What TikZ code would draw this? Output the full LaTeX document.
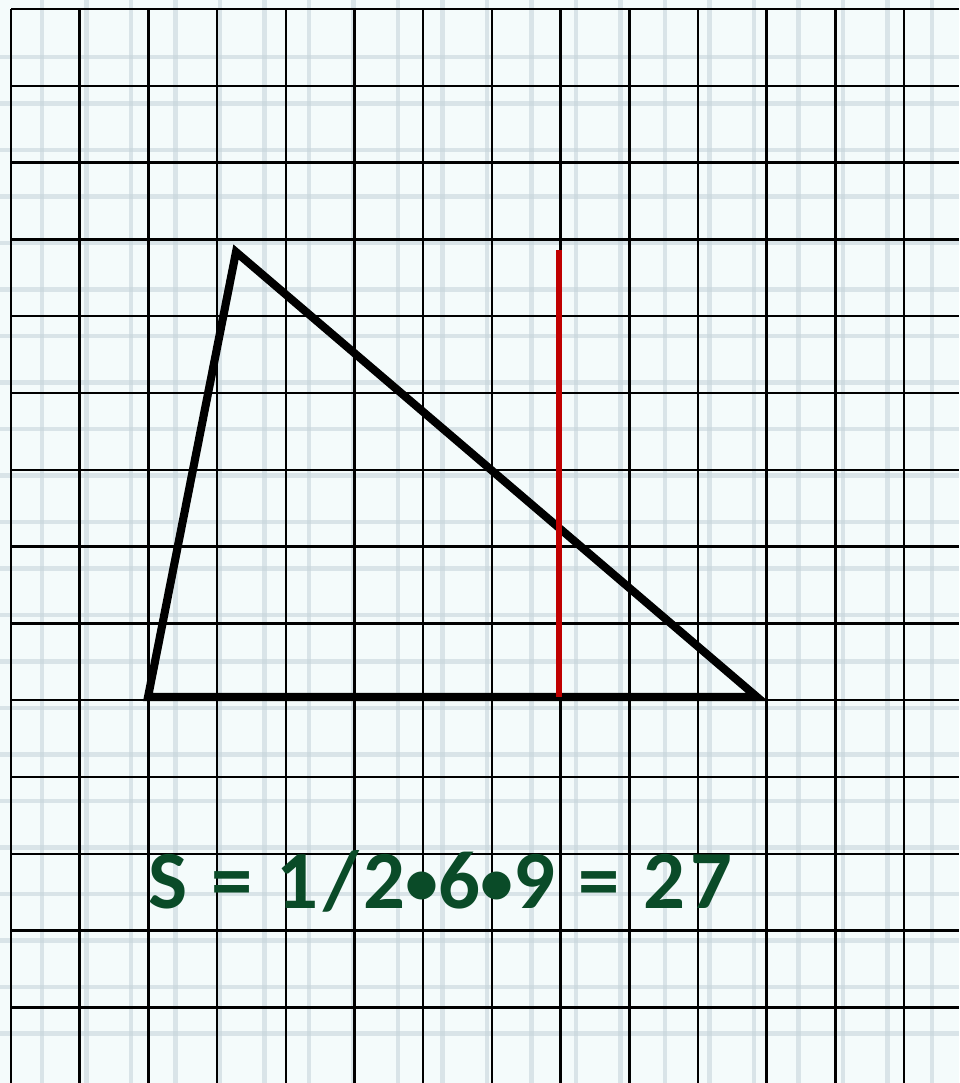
\documentclass[tikz,border=0pt]{standalone}
\usepackage{fontspec}
\setsansfont{Carlito}
\newfontfamily\areafont[LetterSpace=6]{Carlito}
\definecolor{paper}{RGB}{244,251,251}
\definecolor{faint}{RGB}{200,214,220}
\definecolor{ansgreen}{RGB}{10,75,40}
\definecolor{hred}{RGB}{192,0,0}
\newcommand{\dotsep}{\raisebox{0.1ex}{\scalebox{0.8}{•}}}
\begin{document}
\begin{tikzpicture}[x=0.01cm,y=-0.01cm,
  faintline/.style={faint,line width=1.4pt,opacity=0.6},
  gridline/.style={black,line width=0.7pt},
  side/.style={black,line width=2.3pt,line join=miter},
  height/.style={hred,line width=1.8pt}]
  \fill[paper] (0,0) rectangle (959,1083);
  \useasboundingbox (0,0) rectangle (959,1083);
  % faint paper pattern
  \foreach \k in {0,...,21} {
    \draw[faintline] ({42+44.5*\k},0) -- ({42+44.5*\k},1083);
    \draw[faintline] (0,{57+46.5*\k}) -- (959,{57+46.5*\k});
  }
  % black grid
  \foreach \k in {0,...,13} {
    \draw[gridline] ({11+68.7*\k},9) -- ({11+68.7*\k},1083);
    \draw[gridline] (11,{9+76.8*\k}) -- (959,{9+76.8*\k});
  }
  % triangle
  \coordinate (A) at (148,697);
  \coordinate (B) at (236,252);
  \coordinate (C) at (757,697);
  \draw[side] (A) -- (B) -- (C) -- cycle;
  \coordinate (top) at (559,250);
  \coordinate (foot) at (559,697);
  \draw[height] (top) -- (foot);
  \node[font=\areafont\bfseries\fontsize{23.5pt}{28pt}\selectfont,text=ansgreen,anchor=base west,inner sep=0pt] (area) at (148,908) {S = 1/2\dotsep 6\dotsep 9 = 27};
\end{tikzpicture}
\end{document}
